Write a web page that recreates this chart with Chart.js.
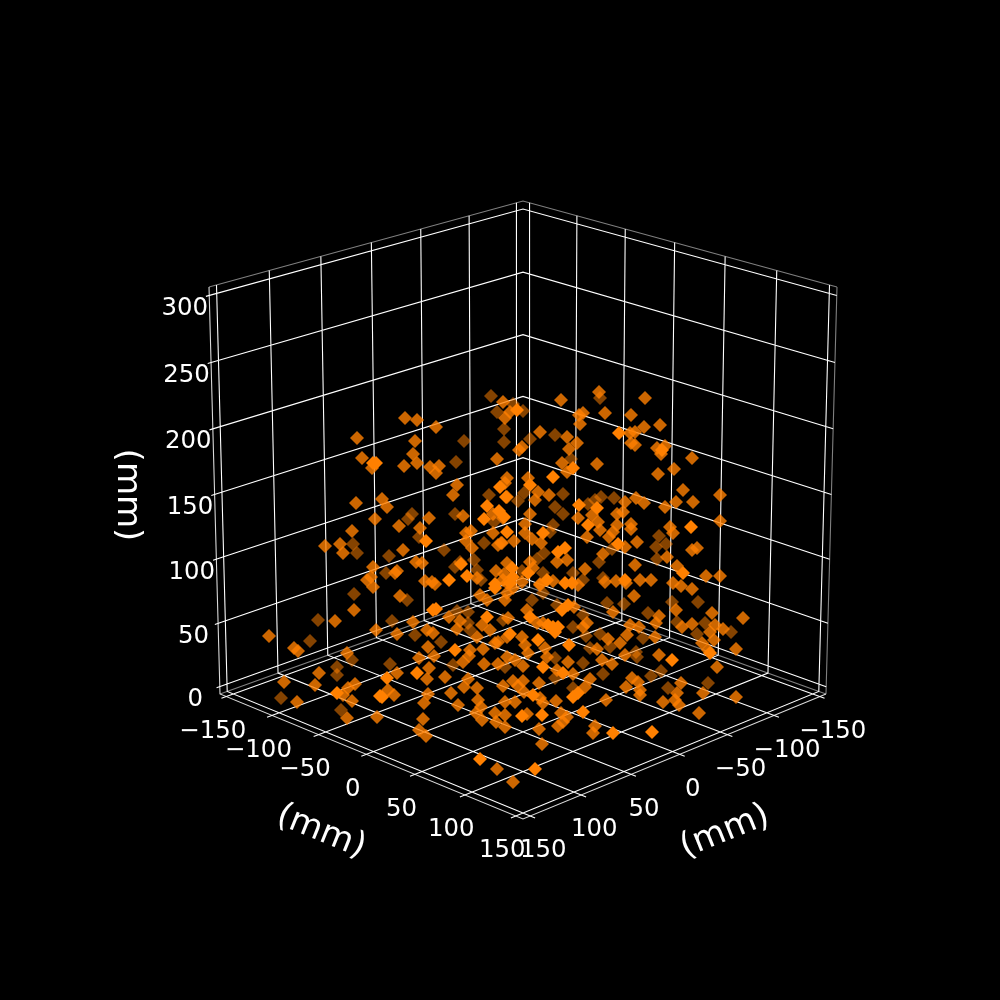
<!DOCTYPE html>
<html>
<head>
<meta charset="utf-8">
<script src="https://cdn.jsdelivr.net/npm/chart.js@4"></script>
<style>
  html, body { margin: 0; padding: 0; background: #000; }
  canvas { display: block; }
</style>
</head>
<body>
<canvas id="chart" width="1000" height="1000"></canvas>
<script>
// tick values of the three axes (mm)
const xTicks = [-150, -100, -50, 0, 50, 100, 150];
const yTicks = [-150, -100, -50, 0, 50, 100, 150];
const zTicks = [0, 50, 100, 150, 200, 250, 300];

// axis limits (mm)
const xyLimit = 157;
const zLimits = [-5.8, 306.2];

// scatter points, in the 0-1000 plane of the view,
// one list per depth shade (far, middle, near)
const farPoints = [
  [491,396],[497,412],[504,429],[504,442],[464,441],[456,462],[489,495],[412,514],[408,519],[455,514],
  [494,522],[419,537],[484,543],[353,544],[357,553],[444,550],[389,556],[474,560],[460,562],[455,567],
  [477,570],[386,573],[481,580],[354,594],[407,600],[513,404],[523,411],[600,398],[555,435],[530,439],
  [571,459],[524,493],[518,501],[563,494],[614,498],[601,497],[588,504],[595,500],[555,507],[563,514],
  [553,525],[550,532],[612,549],[659,536],[666,544],[656,547],[544,553],[657,559],[599,562],[537,559],
  [522,571],[573,573],[543,573],[603,578],[583,580],[318,620],[392,621],[415,635],[457,611],[468,612],
  [468,623],[470,630],[503,620],[441,642],[453,665],[505,667],[310,641],[352,660],[337,667],[337,675],
  [281,698],[341,710],[390,664],[532,600],[543,593],[557,605],[583,615],[607,603],[624,604],[648,613],
  [672,602],[698,602],[677,622],[705,623],[731,632],[697,634],[661,671],[651,676],[643,638],[636,652],
  [637,657],[600,634],[610,647],[590,648],[603,674],[573,627],[586,636],[583,663],[555,658],[555,678],
  [573,688],[668,688],[708,683]
];
const middlePoints = [
  [599,392],[503,402],[505,418],[405,418],[417,420],[436,427],[357,438],[415,441],[413,454],[362,458],
  [372,468],[404,466],[417,463],[430,467],[439,466],[436,473],[497,459],[507,478],[505,483],[457,485],
  [453,495],[382,499],[387,507],[356,503],[493,514],[503,518],[429,518],[463,516],[375,519],[399,526],
  [420,528],[352,531],[471,531],[466,533],[466,541],[493,533],[501,543],[498,545],[325,546],[340,544],
  [343,553],[403,550],[472,548],[416,562],[422,563],[507,563],[373,567],[496,571],[504,574],[477,578],
  [397,571],[395,573],[367,580],[371,577],[425,581],[432,582],[435,584],[507,583],[373,587],[561,400],
  [645,398],[510,412],[583,413],[579,415],[605,413],[631,415],[580,424],[644,427],[660,425],[540,432],
  [567,437],[630,433],[635,432],[631,443],[635,445],[577,443],[569,449],[522,447],[519,450],[657,448],
  [665,446],[661,454],[692,458],[597,464],[562,463],[567,472],[658,474],[674,469],[528,478],[683,490],
  [538,492],[507,497],[535,500],[549,495],[720,495],[636,498],[644,503],[625,502],[676,502],[693,502],
  [665,507],[530,514],[617,514],[623,512],[592,515],[578,518],[720,521],[598,522],[631,524],[631,529],
  [617,525],[525,524],[670,527],[673,533],[600,530],[613,532],[609,537],[587,537],[525,533],[532,539],
  [514,541],[502,543],[637,542],[541,543],[625,547],[603,554],[692,550],[697,548],[667,557],[567,560],
  [557,562],[530,562],[635,565],[585,569],[677,566],[533,568],[706,576],[720,576],[605,582],[616,581],
  [626,583],[640,580],[651,580],[578,585],[553,581],[540,584],[522,582],[503,580],[673,583],[681,586],
  [692,589],[400,596],[354,610],[335,621],[269,636],[376,630],[413,622],[397,634],[449,617],[460,621],
  [457,629],[480,595],[487,600],[507,593],[482,625],[490,630],[477,637],[507,637],[427,630],[433,633],
  [428,647],[434,656],[419,658],[463,662],[470,650],[469,656],[483,649],[484,664],[498,642],[495,643],
  [498,664],[507,657],[294,648],[298,651],[347,653],[319,673],[284,682],[315,685],[297,702],[355,684],
  [348,688],[343,695],[352,701],[347,718],[377,717],[397,673],[388,690],[394,695],[429,668],[427,679],
  [445,677],[428,694],[424,703],[423,719],[419,730],[426,736],[451,693],[468,679],[464,687],[477,688],
  [458,705],[478,700],[481,707],[476,713],[482,720],[495,713],[503,686],[505,702],[496,722],[505,715],
  [505,727],[497,769],[513,588],[505,600],[508,618],[527,610],[540,585],[574,607],[613,612],[634,596],
  [659,616],[676,610],[712,613],[743,618],[656,623],[682,627],[692,624],[710,632],[715,625],[723,629],
  [714,640],[702,643],[708,650],[736,649],[717,667],[659,655],[655,637],[639,627],[630,625],[627,635],
  [620,643],[625,655],[608,639],[597,649],[602,660],[612,664],[583,627],[587,623],[568,662],[543,623],
  [537,623],[522,637],[545,648],[525,645],[528,653],[547,657],[515,660],[523,666],[557,670],[573,674],
  [590,679],[632,678],[638,682],[626,687],[585,687],[539,683],[513,681],[523,681],[518,686],[524,692],
  [540,698],[543,703],[515,702],[556,701],[640,690],[640,695],[681,683],[677,693],[663,702],[675,700],
  [679,705],[703,693],[736,697],[699,713],[606,700],[527,714],[561,713],[567,717],[563,722],[558,726],
  [595,726],[593,733],[539,729],[542,744],[513,782]
];
const nearPoints = [
  [376,463],[373,463],[500,487],[506,497],[487,506],[499,511],[484,519],[426,541],[507,532],[461,564],
  [467,576],[449,580],[495,584],[517,410],[619,433],[662,450],[573,468],[553,477],[530,485],[579,505],
  [597,508],[504,517],[588,525],[691,527],[543,533],[618,544],[565,548],[558,552],[512,568],[683,573],
  [528,573],[513,577],[625,580],[572,583],[565,583],[547,580],[510,583],[433,610],[436,609],[495,588],
  [487,617],[455,650],[387,678],[380,696],[382,697],[337,693],[417,673],[480,759],[562,610],[568,605],
  [530,617],[553,627],[558,627],[548,625],[555,632],[510,634],[538,640],[569,645],[543,667],[563,673],
  [578,693],[573,697],[533,695],[583,712],[522,716],[542,715],[613,733],[652,732],[672,660],[710,653],
  [535,769]
];

// perspective of the 3D box on the view plane
function project(xMm, yMm, zMm) {
  const p = xMm / xyLimit;
  const q = yMm / xyLimit;
  const t = (zMm - zLimits[0]) / (zLimits[1] - zLimits[0]);
  const d = (p - q) / 2;
  const s = (p + q) / 2;
  const w = 1 - 0.068 * s - 0.035 * t;
  return { x: 523 + 303 * d / w, y: (694 + 69.3 * s - 417 * t) / w };
}

// line strip dataset, null points break the line between pieces
function lineSet(pieces, color, width) {
  const data = [];
  pieces.forEach(piece => {
    piece.forEach(p => data.push(project(p[0], p[1], p[2])));
    data.push({ x: null, y: null });
  });
  return {
    type: 'scatter', data: data, showLine: true, spanGaps: false,
    borderColor: color, borderWidth: width, pointRadius: 0, clip: false
  };
}

function pointSet(points, color) {
  return {
    type: 'scatter',
    data: points.map(p => ({ x: p[0], y: p[1] })),
    backgroundColor: color,
    borderWidth: 0,
    pointStyle: 'rectRot',
    pointRadius: 7
  };
}

const zLo = zLimits[0];
const zHi = zLimits[1];
const L = xyLimit;
const tickOut = L * 1.03;

// grid lines: across the floor and up the back walls
const gridPieces = [];
xTicks.forEach(v => gridPieces.push([[v, tickOut, zLo], [v, -L, zLo], [v, -L, zHi]]));
yTicks.forEach(v => gridPieces.push([[tickOut, v, zLo], [-L, v, zLo], [-L, v, zHi]]));
zTicks.forEach(v => gridPieces.push([[-L, L * 1.02, v], [-L, -L, v], [L, -L, v]]));

// back edges of the panes
const paneEdges = [
  [[L, -L, zHi], [-L, -L, zHi], [-L, L, zHi]],
  [[L, -L, zLo], [-L, -L, zLo], [-L, L, zLo]],
  [[L, -L, zLo], [L, -L, zHi]]
];
// axis lines
const axisEdges = [
  [[-L, L, zHi], [-L, L, zLo], [L, L, zLo], [L, -L, zLo]]
];

function tickText(v) {
  return String(v).replace('-', '\u2212');
}

// tick labels and axis titles go through the same scales as the marks
const axisText = {
  id: 'axisText',
  afterDraw(chart) {
    const ctx = chart.ctx;
    const sx = chart.scales.x;
    const sy = chart.scales.y;
    const put = (text, x, y, angle, font) => {
      ctx.save();
      ctx.translate(sx.getPixelForValue(x), sy.getPixelForValue(y));
      ctx.rotate(angle * Math.PI / 180);
      ctx.font = font;
      ctx.fillStyle = '#fff';
      ctx.textAlign = 'center';
      ctx.textBaseline = 'middle';
      ctx.fillText(text, 0, 0);
      ctx.restore();
    };
    const tickFont = '24.4px "DejaVu Sans"';
    const titleFont = '34px "DejaVu Sans"';
    xTicks.forEach(v => {
      const p = project(v, L, zLo);
      put(tickText(v), p.x - 13.5, p.y + 35, 0, tickFont);
    });
    yTicks.forEach(v => {
      const p = project(L, v, zLo);
      put(tickText(v), p.x + 13, p.y + 35, 0, tickFont);
    });
    zTicks.forEach(v => {
      const p = project(-L, L, v);
      put(tickText(v), p.x - 24.5, p.y + 13, 0, tickFont);
    });
    put('(mm)', 321, 832, 22, titleFont);
    put('(mm)', 725, 832, -22, titleFont);
    put('(mm)', 127, 495, 90, titleFont);
  }
};

new Chart(document.getElementById('chart'), {
  type: 'scatter',
  data: {
    datasets: [
      pointSet(nearPoints, 'rgba(255,128,0,1)'),
      pointSet(middlePoints, 'rgba(255,128,0,0.8)'),
      pointSet(farPoints, 'rgba(255,128,0,0.52)'),
      lineSet(gridPieces, '#ffffff', 1.1),
      lineSet(axisEdges, 'rgba(255,255,255,0.85)', 1.1),
      lineSet(paneEdges, 'rgba(255,255,255,0.5)', 1.1)
    ]
  },
  options: {
    responsive: false,
    animation: false,
    devicePixelRatio: 1,
    layout: { padding: 0, autoPadding: false },
    plugins: { legend: { display: false }, tooltip: { enabled: false } },
    scales: {
      x: { type: 'linear', min: 0, max: 1000, display: false },
      y: { type: 'linear', min: 0, max: 1000, reverse: true, display: false }
    }
  },
  plugins: [axisText]
});
</script>
</body>
</html>
